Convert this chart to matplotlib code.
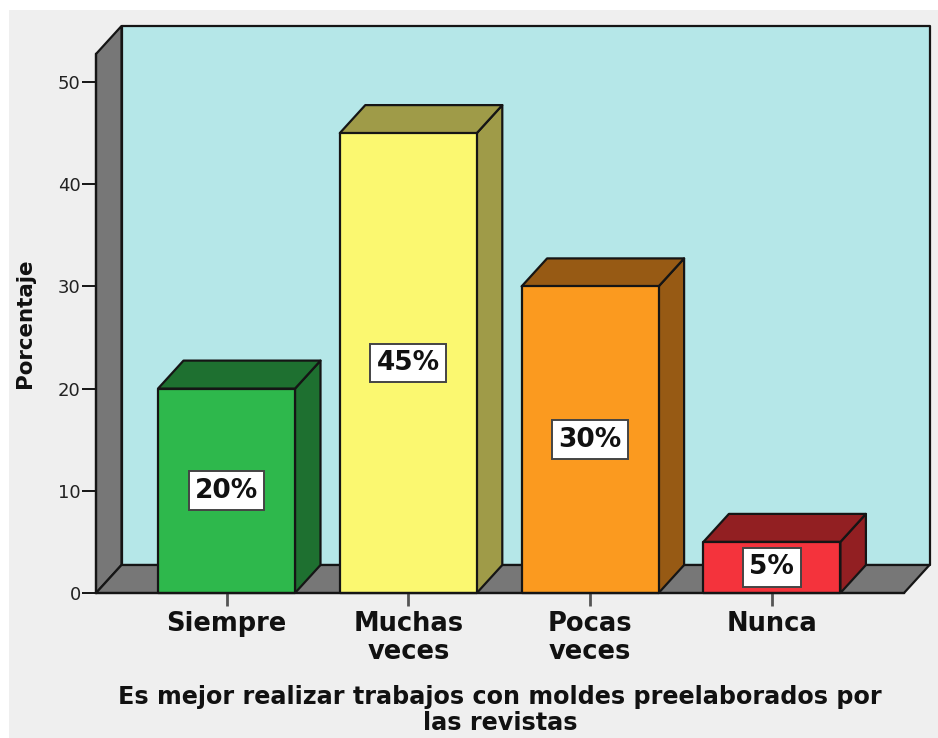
import matplotlib
matplotlib.use('Agg')
import matplotlib.pyplot as plt
from matplotlib.patches import Polygon, Rectangle

categories = ['Siempre', 'Muchas\nveces', 'Pocas\nveces', 'Nunca']
values = [20, 45, 30, 5]
value_labels = ['20%', '45%', '30%', '5%']
yticks = [0, 10, 20, 30, 40, 50]
front_colors = ['#2eb84c', '#fbf870', '#fb9a1f', '#f4333c']
dark_colors = ['#1e7030', '#9f9b48', '#975a14', '#921f22']
xlabel_text = 'Es mejor realizar trabajos con moldes preelaborados por\nlas revistas'

W, H = 938, 738
fig = plt.figure(figsize=(W / 100, H / 100), dpi=100, facecolor='white')
fig.patches.append(Rectangle((9 / W, 0), 1, 1 - 10 / H, transform=fig.transFigure,
                             facecolor='#efefef', edgecolor='none', zorder=-10))

# front plane of the box in pixels
left, right, bottom, top = 96, 904, 593, 54
ax = fig.add_axes([left / W, 1 - bottom / H, (right - left) / W, (bottom - top) / H])
ax.patch.set_visible(False)

px_x = 181.8    # pixels per category
px_y = 10.22    # pixels per percent
x0 = -(226.5 - left) / px_x
x1 = x0 + (right - left) / px_x
y1 = (bottom - top) / px_y
ax.set_xlim(x0, x1)
ax.set_ylim(0, y1)

dx = 25.5 / px_x
dy = 28 / px_y
bar_w = 137 / px_x
edge = '#151515'
lw = 1.6


def poly(points, color, z):
    ax.add_patch(Polygon(points, closed=True, facecolor=color, edgecolor=edge,
                         linewidth=lw, clip_on=False, zorder=z, joinstyle='round'))


poly([(x0 + dx, dy), (x1 + dx, dy), (x1 + dx, y1 + dy), (x0 + dx, y1 + dy)], '#b5e7e8', 1)
poly([(x0, 0), (x0 + dx, dy), (x0 + dx, y1 + dy), (x0, y1)], '#777777', 1)
poly([(x0, 0), (x1, 0), (x1 + dx, dy), (x0 + dx, dy)], '#777777', 1)

for i, v in enumerate(values):
    a = i - bar_w / 2
    b = i + bar_w / 2
    poly([(b, 0), (b + dx, dy), (b + dx, v + dy), (b, v)], dark_colors[i], 2)
    poly([(a, v), (b, v), (b + dx, v + dy), (a + dx, v + dy)], dark_colors[i], 2)
    poly([(a, 0), (b, 0), (b, v), (a, v)], front_colors[i], 3)
    ax.text(i, v / 2, value_labels[i], ha='center', va='center', fontsize=19,
            fontweight='bold', color='#111111', zorder=5,
            bbox=dict(boxstyle='square,pad=0.24', facecolor='white',
                      edgecolor='#444444', linewidth=1.4))

for s in ['top', 'right']:
    ax.spines[s].set_visible(False)
for s in ['left', 'bottom']:
    ax.spines[s].set_color(edge)
    ax.spines[s].set_linewidth(lw)
    ax.spines[s].set_zorder(4)

ax.set_yticks(yticks)
ax.tick_params(axis='y', length=10, width=1.4, color=edge, labelsize=13, pad=1, labelcolor='#222222')
ax.set_xticks(range(len(categories)))
ax.set_xticklabels(categories, fontsize=18.5, fontweight='bold', linespacing=1.09)
ax.tick_params(axis='x', length=9.5, width=2, color='#555555', pad=3.5, labelcolor='#111111')

fig.text(25 / W, 1 - 323 / H, 'Porcentaje', rotation=90, ha='center', va='center',
         fontsize=15.4, fontweight='bold', color='#111111')
fig.text(500 / W, 1 - 710 / H, xlabel_text, ha='center', va='center', fontsize=17.2,
         fontweight='bold', color='#111111', linespacing=1.15)

fig.savefig('out.png', dpi=100, facecolor=fig.get_facecolor())
